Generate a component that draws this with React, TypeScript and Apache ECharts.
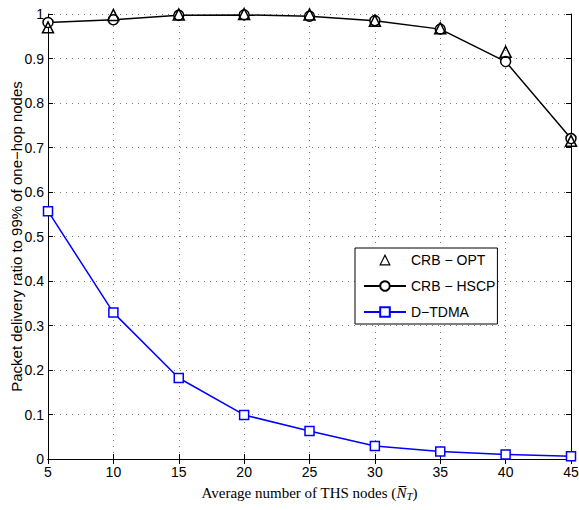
import React, { useEffect, useRef } from "react";
import * as echarts from "echarts";

const nodes = [5, 10, 15, 20, 25, 30, 35, 40, 45];
const crbOpt = [0.97, 0.998, 0.999, 1.0, 0.999, 0.985, 0.968, 0.915, 0.715];
const crbHscp = [0.981, 0.987, 0.997, 0.998, 0.995, 0.985, 0.966, 0.893, 0.72];
const dTdma = [0.557, 0.329, 0.182, 0.099, 0.063, 0.029, 0.017, 0.01, 0.006];

const FONT = "Liberation Sans, Arial, sans-serif";
const SERIF = "Liberation Serif, Times New Roman, serif";

export default function App() {
  const ref = useRef<HTMLDivElement>(null);
  useEffect(() => {
    const chart = echarts.init(ref.current!, null, { renderer: "svg" });
    const pair = (ys: number[]) => nodes.map((x, i) => [x, ys[i]]);
    const axisLine = { show: true, lineStyle: { color: "#000", width: 1 } };
    const tick = { show: true, inside: true, length: 5, lineStyle: { color: "#000" } };
    const split = { show: true, lineStyle: { color: "#777", type: [1, 5] as any, width: 1 } };
    chart.setOption({
      animation: false,
      backgroundColor: "#fff",
      grid: { left: 48, right: 8, top: 14, bottom: 51, containLabel: false, outerBoundsMode: "none" },
      legend: {
        orient: "vertical",
        left: 355,
        top: 248,
        backgroundColor: "#fff",
        borderColor: "#000",
        borderWidth: 1,
        borderRadius: 0,
        padding: [5, 2, 5, 8],
        itemWidth: 42,
        itemHeight: 12,
        itemGap: 12,
        textStyle: { fontFamily: FONT, fontSize: 14, color: "#000" },
        data: [
          { name: "CRB − OPT", itemStyle: { color: "#fff", borderColor: "#000", borderWidth: 1.2 } },
          "CRB − HSCP",
          "D−TDMA",
        ],
      },
      xAxis: [
        {
          type: "value",
          min: 5,
          max: 45,
          interval: 5,
          position: "bottom",
          axisLine,
          axisTick: tick,
          axisLabel: { color: "#000", fontFamily: FONT, fontSize: 14, margin: 6 },
          splitLine: split,
          name: "{a|Average number of THS nodes (}{n|N̅}{s|T}{a|)}",
          nameLocation: "middle",
          nameGap: 25,
          nameMoveOverlap: false,
          nameTextStyle: {
            rich: {
              a: { fontFamily: SERIF, fontSize: 15, color: "#000" },
              n: { fontFamily: SERIF, fontSize: 15, color: "#000", fontStyle: "italic" },
              s: { fontFamily: SERIF, fontSize: 11, color: "#000", fontStyle: "italic", verticalAlign: "bottom", padding: [6, 0, 0, 0] },
            },
          },
        },
        {
          type: "value",
          min: 5,
          max: 45,
          interval: 5,
          position: "top",
          axisLine,
          axisTick: tick,
          axisLabel: { show: false },
          splitLine: { show: false },
        },
      ],
      yAxis: [
        {
          type: "value",
          min: 0,
          max: 1,
          interval: 0.1,
          position: "left",
          axisLine,
          axisTick: tick,
          axisLabel: { color: "#000", fontFamily: FONT, fontSize: 14, margin: 4 },
          splitLine: split,
          name: "Packet delivery ratio to 99% of one−hop nodes",
          nameLocation: "middle",
          nameGap: 24,
          nameMoveOverlap: false,
          nameTextStyle: { fontFamily: FONT, fontSize: 15, color: "#000" },
        },
        {
          type: "value",
          min: 0,
          max: 1,
          interval: 0.1,
          position: "right",
          axisLine,
          axisTick: tick,
          axisLabel: { show: false },
          splitLine: { show: false },
        },
      ],
      series: [
        {
          name: "CRB − HSCP",
          type: "line",
          data: pair(crbHscp),
          symbol: "circle",
          symbolSize: 10,
          showAllSymbol: true,
          lineStyle: { color: "#000", width: 1.5 },
          itemStyle: { color: "#fff", borderColor: "#000", borderWidth: 1.5 },
          z: 3,
        },
        {
          name: "CRB − OPT",
          type: "line",
          data: pair(crbOpt),
          symbol: "triangle",
          symbolSize: 11,
          showAllSymbol: true,
          lineStyle: { color: "#000", width: 0, opacity: 0 },
          itemStyle: { color: "rgba(255,255,255,0)", borderColor: "#000", borderWidth: 1.5 },
          z: 4,
        },
        {
          name: "D−TDMA",
          type: "line",
          data: pair(dTdma),
          symbol: "rect",
          symbolSize: 9,
          showAllSymbol: true,
          lineStyle: { color: "#0000ff", width: 1.5 },
          itemStyle: { color: "#fff", borderColor: "#0000ff", borderWidth: 1.5 },
          z: 3,
        },
      ],
    });
    return () => chart.dispose();
  }, []);
  return <div ref={ref} style={{ width: 579, height: 510, position: "absolute", left: 0, top: 0 }} />;
}
